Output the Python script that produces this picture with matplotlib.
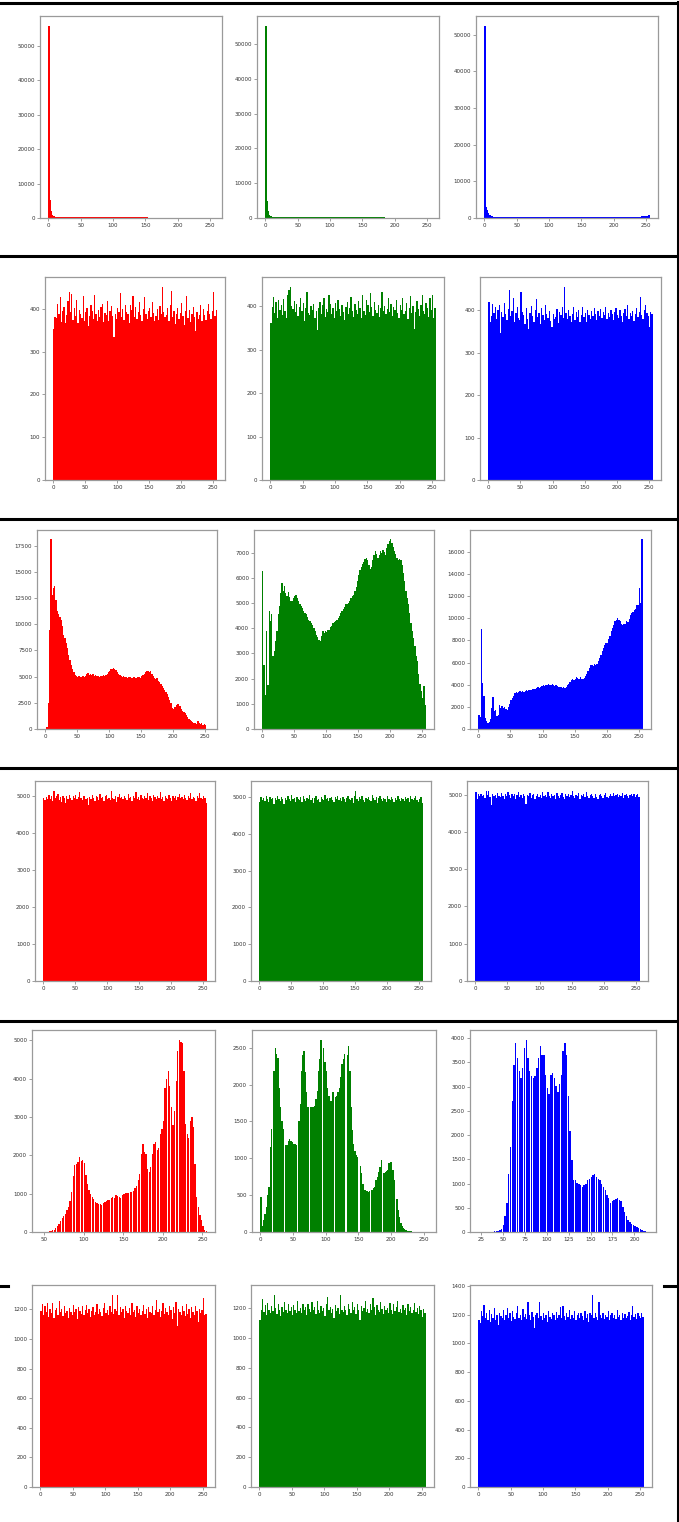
"""Grid of 18 per-channel colour histograms (six images x R/G/B), pasted as screenshots in a bordered table."""

import numpy as np
import matplotlib

matplotlib.use("Agg")
import matplotlib.pyplot as plt
from matplotlib.lines import Line2D
from matplotlib.ticker import MultipleLocator, FormatStrFormatter

W, H = 679, 1522
BIN = 2  # each value below covers two grey levels (0-1, 2-3, ...)

# ---- row 1: very dark image, almost everything at level 0 ----
R1_RED = [55800, 5300, 2100, 900, 560, 430, 380, 350, 330, 320, 310, 300, 305, 295, 290, 300,
          285, 290, 280, 285, 275, 280, 270, 275, 268, 272, 265, 260, 262, 258, 255, 260,
          250, 252, 248, 250, 245, 248, 240, 244, 238, 242, 236, 240, 232, 236, 230, 234,
          228, 230, 226, 228, 222, 225, 220, 222, 218, 220, 215, 218, 212, 215, 210, 212,
          208, 210, 205, 208, 202, 205, 200, 202, 198, 200, 195, 190, 150, 60]
R1_GREEN = [55300, 4900, 1900, 800, 450, 340, 290, 265, 250, 245, 240, 238, 235, 232, 230, 228,
            226, 224, 222, 220, 218, 221, 216, 219, 214, 217, 212, 215, 210, 213, 208, 211,
            206, 209, 204, 207, 202, 205, 200, 203, 198, 201, 196, 199, 194, 197, 192, 195,
            190, 193, 188, 191, 186, 189, 184, 187, 182, 185, 180, 183, 178, 181, 176, 179,
            174, 177, 172, 175, 170, 173, 168, 171, 166, 169, 164, 167, 162, 165, 160, 163,
            158, 161, 156, 159, 154, 157, 152, 155, 150, 153, 148, 151, 146, 120, 60, 20]
R1_BLUE = [52500, 3000, 2100, 1300, 800, 560, 450, 400, 380, 362, 350, 345, 340, 336, 332, 330,
           328, 325, 322, 320, 318, 320, 316, 318, 314, 317, 312, 315, 310, 313, 309, 312,
           308, 311, 307, 310, 306, 309, 305, 308, 304, 307, 303, 306, 302, 305, 301, 304,
           300, 303, 300, 302, 299, 301, 298, 300, 297, 300, 296, 299, 296, 298, 295, 298,
           295, 297, 294, 297, 294, 296, 294, 296, 295, 297, 296, 298, 297, 299, 298, 300,
           299, 301, 300, 303, 302, 305, 304, 307, 306, 309, 308, 311, 310, 313, 312, 316,
           315, 319, 318, 322, 321, 325, 324, 328, 327, 332, 331, 336, 335, 340, 340, 345,
           345, 350, 352, 358, 362, 370, 378, 390, 405, 420, 440, 470, 520, 590, 650, 720]

# ---- row 2: flat (encrypted) histograms ----
R2_RED = [352, 381, 378, 412, 389, 427, 370, 395, 404, 368, 386, 418, 440, 392, 436, 375,
          401, 384, 420, 366, 397, 388, 379, 430, 371, 393, 402, 360, 384, 410, 395, 377,
          433, 389, 371, 398, 380, 405, 412, 369, 391, 385, 418, 372, 395, 406, 383, 335,
          388, 376, 402, 392, 438, 381, 399, 374, 410, 393, 387, 366, 409, 397, 430, 381,
          404, 376, 392, 417, 385, 371, 400, 428, 389, 377, 395, 403, 382, 416, 391, 372,
          384, 399, 374, 407, 388, 452, 393, 380, 386, 401, 372, 410, 442, 381, 396, 365,
          387, 403, 377, 391, 413, 384, 362, 395, 430, 379, 398, 369, 388, 405, 382, 348,
          392, 377, 386, 408, 371, 399, 385, 374, 396, 412, 389, 376, 394, 440, 383, 398]
R2_GREEN = [362, 398, 421, 385, 409, 374, 414, 392, 403, 380, 417, 389, 372, 425, 438, 445,
            401, 393, 412, 386, 404, 377, 398, 420, 390, 407, 366, 395, 432, 384, 379, 401,
            391, 406, 373, 388, 345, 397, 410, 383, 402, 419, 376, 394, 387, 425, 405, 381,
            396, 372, 408, 389, 414, 393, 378, 402, 386, 368, 399, 409, 383, 395, 421, 388,
            376, 404, 392, 383, 411, 397, 372, 426, 390, 380, 415, 402, 386, 430, 398, 378,
            409, 391, 384, 403, 375, 397, 432, 388, 401, 381, 394, 420, 386, 405, 377, 398,
            391, 414, 384, 372, 403, 392, 419, 381, 389, 408, 370, 396, 423, 385, 400, 348,
            387, 412, 394, 378, 402, 425, 389, 381, 407, 395, 376, 420, 392, 426, 372, 396]
R2_BLUE = [418, 372, 387, 415, 392, 408, 378, 399, 411, 345, 396, 384, 417, 390, 376, 402,
           448, 385, 398, 428, 371, 393, 406, 382, 377, 442, 395, 388, 367, 404, 379, 356,
           392, 410, 385, 372, 399, 427, 383, 394, 366, 405, 388, 377, 412, 390, 381, 398,
           374, 359, 391, 379, 384, 402, 370, 396, 388, 406, 381, 455, 394, 378, 400, 386,
           372, 390, 408, 376, 395, 384, 399, 372, 388, 406, 383, 394, 371, 401, 389, 378,
           397, 385, 405, 391, 376, 398, 386, 402, 381, 395, 389, 407, 378, 393, 384, 400,
           390, 377, 396, 404, 388, 381, 399, 385, 372, 394, 402, 387, 411, 379, 393, 386,
           398, 375, 390, 405, 383, 396, 430, 388, 378, 401, 412, 392, 385, 360, 396, 390]

# ---- row 3: natural image ----
R3_RED = [0, 150, 2500, 9500, 18100, 12800, 13500, 13700, 12300, 11300, 11000, 10700, 10400, 9800, 9000, 8700,
          8200, 7700, 7100, 6600, 6100, 5700, 5400, 5200, 5100, 5000, 5050, 4950, 5000, 5050, 5000, 5100,
          5250, 5350, 5200, 5300, 5150, 5250, 5100, 5200, 5050, 5100, 5000, 5100, 5050, 5150, 5100, 5200,
          5250, 5400, 5550, 5700, 5750, 5800, 5700, 5600, 5450, 5300, 5150, 5050, 5000, 5100, 4950, 5000,
          4900, 4950, 5000, 4850, 4900, 4950, 4850, 4900, 5000, 4950, 4900, 5050, 5150, 5300, 5400, 5500,
          5550, 5450, 5500, 5300, 5100, 4900, 4800, 4850, 4600, 4450, 4300, 4100, 3900, 3750, 3500, 3300,
          3100, 2800, 2450, 2050, 1950, 2100, 2300, 2400, 2350, 2200, 1900, 1700, 1600, 1500, 1300, 1100,
          950, 850, 800, 700, 600, 550, 500, 800, 600, 450, 550, 400, 500, 350, 0, 0]
R3_GREEN = [6270, 2560, 1370, 3880, 1760, 4680, 4300, 4550, 2890, 3100, 3490, 3900, 4550, 4900, 5400, 5800,
            5500, 5700, 5400, 5300, 5450, 5250, 5100, 5080, 5200, 5300, 5340, 5200, 5100, 4950, 4900, 4800,
            4700, 4600, 4550, 4450, 4350, 4300, 4200, 4150, 4000, 3900, 3750, 3650, 3550, 3500, 3700, 3880,
            3800, 3900, 3850, 3950, 3950, 4050, 4100, 4200, 4250, 4300, 4350, 4410, 4500, 4600, 4700, 4750,
            4850, 4950, 4950, 5000, 5100, 5200, 5300, 5340, 5500, 5650, 5870, 6100, 6300, 6450, 6540, 6650,
            6750, 6800, 6700, 6500, 6340, 6450, 6700, 6900, 7070, 6950, 6800, 6900, 7070, 7000, 7100, 7050,
            6930, 7200, 7350, 7450, 7530, 7400, 7250, 7070, 6950, 6800, 6700, 6750, 6730, 6500, 6200, 5870,
            5500, 5200, 4950, 4600, 4200, 3900, 3620, 3300, 2900, 2690, 2200, 1800, 1500, 1230, 1700, 970]
R3_BLUE = [1290, 1100, 9040, 4140, 2940, 990, 700, 540, 600, 900, 1890, 2850, 1600, 1740, 1200, 1290,
           2130, 1900, 2050, 1850, 1950, 1800, 1740, 2000, 2300, 2640, 2800, 3000, 3240, 3300, 3250, 3350,
           3390, 3300, 3420, 3380, 3450, 3480, 3400, 3500, 3550, 3500, 3600, 3650, 3600, 3690, 3750, 3700,
           3800, 3850, 3930, 3900, 3980, 4000, 4050, 3950, 4000, 4080, 3950, 3900, 3930, 3850, 3800, 3750,
           3800, 3700, 3750, 3690, 3800, 3950, 4100, 4250, 4440, 4500, 4400, 4550, 4650, 4600, 4500, 4650,
           4550, 4500, 4590, 4800, 5000, 5200, 5500, 5790, 5800, 5700, 5850, 5800, 5850, 6100, 6400, 6700,
           7000, 7300, 7550, 7750, 7800, 8100, 8400, 8800, 9100, 9400, 9700, 9850, 10000, 9800, 9700, 9500,
           9400, 9450, 9500, 9700, 9650, 9900, 10300, 10500, 10600, 10750, 10800, 11200, 11200, 12700, 11350, 17100]

# ---- row 4: flat (encrypted) histograms ----
R4_RED = [4960, 4890, 4985, 4930, 5020, 4910, 5000, 4870, 5150, 4940, 4990, 5050, 4905, 4970, 4850, 5010,
          4955, 4820, 4990, 4930, 5040, 4960, 4885, 5000, 4945, 5025, 4915, 4980, 5110, 4950, 4895, 4990,
          5005, 4930, 4960, 4760, 4985, 4920, 5030, 4950, 4880, 5000, 4965, 4905, 5045, 4940, 4975, 4860,
          4990, 5020, 4930, 4955, 4890, 5130, 4960, 4915, 4995, 4850, 4970, 5050, 4940, 4985, 4910, 5015,
          4955, 4900, 5060, 4935, 4980, 4870, 5000, 4950, 5100, 4920, 4975, 4890, 5035, 4960, 4925, 5010,
          4945, 5080, 4900, 4990, 4955, 4870, 5020, 4965, 4915, 5000, 4940, 5110, 4930, 4985, 4880, 5005,
          4960, 4920, 5040, 4950, 4870, 4990, 4935, 5015, 4900, 4970, 5060, 4945, 4985, 4910, 5020, 4950,
          4890, 4995, 4940, 5070, 4925, 4980, 4955, 4880, 5010, 4940, 5090, 4960, 4930, 5000, 4950, 4820]
R4_GREEN = [4860, 5010, 4930, 4985, 4900, 5030, 4950, 4880, 5005, 4940, 4975, 4820, 4990, 4925, 5040, 4960,
            4890, 5000, 4945, 4810, 4985, 4930, 5020, 4955, 4900, 5050, 4940, 4975, 4870, 5010, 4950, 4920,
            4995, 4860, 5030, 4945, 4905, 4980, 4960, 5045, 4915, 4990, 4840, 4970, 5025, 4935, 4960, 4880,
            5000, 4950, 4915, 5060, 4940, 4985, 4895, 4970, 5010, 4930, 4875, 4995, 4950, 5035, 4920, 4965,
            4905, 5000, 4940, 4860, 4990, 5040, 4955, 4915, 4980, 4830, 5020, 5180, 4945, 4900, 4995, 4960,
            5030, 4925, 4870, 4985, 4950, 5015, 4935, 4890, 5050, 4965, 4920, 4995, 4850, 4975, 5020, 4940,
            4905, 4990, 4960, 4880, 5035, 4945, 4915, 5000, 4960, 4870, 4985, 4930, 5040, 4950, 4905, 4990,
            4955, 4895, 5010, 4940, 4970, 4860, 5025, 4950, 4910, 4985, 5020, 4935, 4880, 4960, 5010, 4850]
R4_BLUE = [5060, 4880, 5010, 4970, 5030, 4950, 5000, 4920, 5110, 4985, 5090, 4940, 4730, 5020, 4960, 4995,
           4900, 5040, 4975, 4930, 5050, 4965, 4890, 5010, 4950, 5070, 4985, 4915, 5030, 4960, 5005, 4875,
           4990, 5060, 4940, 4990, 4900, 5020, 4965, 4760, 5000, 4950, 5045, 4920, 4980, 5010, 4890, 4975,
           5030, 4945, 4990, 4915, 5065, 4960, 5000, 4930, 5080, 4975, 4910, 5020, 4955, 4995, 4880, 5040,
           4965, 4920, 4990, 5050, 4945, 4890, 5005, 4970, 5025, 4935, 4985, 5110, 4960, 4915, 5000, 4950,
           5040, 4875, 4990, 4965, 5015, 4930, 5060, 4950, 4905, 4995, 5030, 4960, 4920, 5005, 4945, 4880,
           4990, 5020, 4955, 4910, 4985, 5035, 4940, 4900, 4975, 5010, 4950, 5040, 4965, 4990, 5025, 4930,
           5000, 4960, 5045, 4920, 4985, 5010, 4950, 4905, 4995, 5020, 4960, 5030, 4935, 4990, 5015, 4945]

# ---- row 5: stretched image (empty levels show as white gaps) ----
R5_RED = [0, 0, 0, 0, 0, 0, 0, 0, 0, 0, 0, 0, 0, 0, 0, 0,
          0, 0, 0, 0, 0, 0, 0, 0, 0, 0, 0, 10, 15, 25, 40, 60,
          100, 150, 220, 300, 360, 420, 480, 580, 650, 800, 1050, 1450, 1750, 1780, 1830, 1960,
          1850, 1880, 1800, 1500, 1250, 1100, 1000, 920, 850, 790, 760, 740, 730, 710, 760, 790,
          810, 840, 830, 880, 920, 900, 965, 940, 920, 880, 960, 1000, 1020, 1030, 1010, 1050,
          1050, 1080, 1140, 1200, 1350, 1525, 2040, 2300, 2100, 2040, 1650, 1570, 1700, 2040, 2300, 2340,
          2130, 2200, 2560, 2700, 2900, 3770, 4000, 4200, 3810, 3250, 2780, 3160, 3940, 4720, 5020, 4950,
          4930, 4200, 2820, 2560, 2450, 2900, 2990, 2730, 1780, 920, 660, 450, 320, 150, 60, 20]
R5_GREEN = [480, 76, 166, 250, 345, 500, 615, 1150, 1400, 0, 2190, 2500, 2420, 2365, 1960, 1700,
            1510, 1400, 0, 1175, 1175, 1230, 1265, 1240, 1220, 1200, 1200, 1175, 0, 1500, 1740, 2190,
            2400, 2450, 2170, 1900, 1690, 0, 1690, 1690, 1700, 1715, 1800, 1915, 2190, 2350, 2610, 0,
            2500, 2300, 2190, 1960, 1850, 1780, 1780, 1900, 0, 1830, 1850, 1900, 1960, 2100, 2280, 2350,
            2410, 0, 2400, 2520, 2190, 1700, 1380, 1200, 1100, 1040, 1020, 0, 900, 795, 650, 570,
            570, 560, 548, 555, 0, 570, 600, 615, 700, 750, 820, 885, 975, 0, 795, 815,
            830, 840, 930, 950, 950, 840, 700, 0, 450, 300, 200, 120, 80, 55, 40, 25,
            20, 15, 10, 8, 5]
R5_BLUE = [0, 0, 0, 0, 0, 0, 0, 0, 0, 0, 0, 0, 0, 0, 0, 0,
           0, 0, 0, 0, 14, 18, 25, 35, 70, 150, 320, 590, 1200, 1750, 2700, 3450,
           3900, 3590, 3320, 3180, 3390, 3800, 3970, 3590, 3320, 3220, 3180, 3220, 3390, 3590, 3830, 3660,
           3660, 3250, 2980, 2840, 3250, 3290, 3180, 3010, 2880, 3050, 3250, 3730, 3900, 3660, 2810, 2090,
           1480, 1070, 1070, 1020, 1000, 970, 935, 980, 1000, 1070, 1100, 1140, 1180, 1200, 1140, 1100,
           1070, 1000, 935, 865, 765, 700, 590, 630, 660, 680, 695, 660, 630, 525, 420, 320,
           250, 200, 170, 140, 115, 95, 80, 60, 48, 30, 14]

# ---- row 6: flat (encrypted) histograms ----
R6_RED = [1190, 1235, 1160, 1225, 1180, 1245, 1150, 1200, 1175, 1240, 1145, 1195, 1210, 1165, 1255, 1180,
          1200, 1155, 1220, 1175, 1190, 1140, 1210, 1185, 1165, 1230, 1180, 1200, 1135, 1215, 1190, 1170,
          1225, 1160, 1195, 1230, 1175, 1205, 1150, 1190, 1215, 1165, 1185, 1235, 1170, 1200, 1180, 1155,
          1210, 1245, 1175, 1195, 1160, 1225, 1185, 1300, 1170, 1205, 1190, 1295, 1165, 1215, 1180, 1200,
          1145, 1225, 1190, 1175, 1210, 1160, 1240, 1185, 1195, 1150, 1220, 1175, 1205, 1165, 1190, 1230,
          1170, 1200, 1145, 1215, 1185, 1175, 1225, 1160, 1195, 1265, 1180, 1205, 1150, 1190, 1240, 1170,
          1210, 1185, 1165, 1225, 1195, 1135, 1215, 1175, 1250, 1090, 1200, 1180, 1165, 1220, 1190, 1155,
          1235, 1170, 1200, 1140, 1215, 1185, 1160, 1225, 1190, 1115, 1205, 1175, 1195, 1280, 1160, 1170]
R6_GREEN = [1120, 1190, 1260, 1175, 1220, 1150, 1235, 1190, 1165, 1215, 1180, 1290, 1200, 1160, 1225, 1185,
            1145, 1210, 1175, 1240, 1190, 1165, 1230, 1180, 1205, 1155, 1220, 1190, 1170, 1245, 1180, 1200,
            1165, 1230, 1185, 1210, 1150, 1225, 1195, 1175, 1240, 1185, 1205, 1160, 1250, 1190, 1170, 1215,
            1180, 1200, 1145, 1225, 1275, 1185, 1210, 1165, 1195, 1135, 1220, 1180, 1200, 1160, 1285, 1190,
            1175, 1215, 1185, 1155, 1230, 1195, 1170, 1240, 1185, 1205, 1160, 1225, 1190, 1120, 1215, 1180,
            1200, 1250, 1175, 1195, 1165, 1230, 1185, 1270, 1205, 1150, 1220, 1190, 1175, 1240, 1195, 1160,
            1215, 1185, 1200, 1170, 1235, 1190, 1160, 1225, 1180, 1205, 1245, 1175, 1195, 1165, 1220, 1185,
            1200, 1150, 1230, 1180, 1210, 1165, 1190, 1235, 1175, 1200, 1160, 1215, 1185, 1140, 1195, 1170]
R6_BLUE = [1160, 1145, 1225, 1190, 1270, 1175, 1210, 1160, 1235, 1150, 1205, 1180, 1245, 1165, 1200, 1125,
           1215, 1190, 1175, 1230, 1160, 1195, 1250, 1180, 1210, 1155, 1225, 1185, 1170, 1215, 1260, 1175,
           1195, 1160, 1240, 1185, 1205, 1170, 1290, 1200, 1165, 1220, 1185, 1105, 1195, 1215, 1175, 1290,
           1190, 1160, 1210, 1180, 1200, 1150, 1225, 1185, 1170, 1210, 1195, 1160, 1220, 1180, 1200, 1255,
           1175, 1260, 1190, 1165, 1215, 1185, 1235, 1170, 1200, 1180, 1225, 1160, 1195, 1210, 1175, 1215,
           1190, 1165, 1225, 1180, 1205, 1150, 1215, 1195, 1340, 1175, 1210, 1185, 1165, 1290, 1195, 1180,
           1215, 1170, 1200, 1185, 1225, 1160, 1195, 1210, 1180, 1200, 1170, 1230, 1185, 1195, 1160, 1215,
           1180, 1205, 1175, 1190, 1220, 1165, 1200, 1260, 1185, 1205, 1170, 1215, 1190, 1180, 1210, 1185]

CHANNEL_COLORS = ["#ff0000", "#008000", "#0000ff"]
ROW_DATA = [
    [R1_RED, R1_GREEN, R1_BLUE],
    [R2_RED, R2_GREEN, R2_BLUE],
    [R3_RED, R3_GREEN, R3_BLUE],
    [R4_RED, R4_GREEN, R4_BLUE],
    [R5_RED, R5_GREEN, R5_BLUE],
    [R6_RED, R6_GREEN, R6_BLUE],
]
# y tick step per panel
Y_STEPS = [
    [10000, 10000, 10000],
    [100, 100, 100],
    [2500, 1000, 2000],
    [1000, 1000, 1000],
    [1000, 500, 500],
    [200, 200, 200],
]
FULL = (-12.8, 268.8)
X_LIMS = {(4, 0): (34.7, 265.9), (4, 2): (12.7, 224.6)}
X_STEPS = {(4, 2): 25}
COMB = {(4, 0), (4, 2)}  # histograms with many empty levels

# axes boxes in pixels: (left, top, right, bottom) per row / column
ROW_Y = [(16, 218), (277, 480), (530, 729), (781, 981), (1030, 1232), (1285, 1487)]
COL_X = [
    [(40, 222), (257, 439), (476, 658)],
    [(45, 225), (262, 444), (480, 661)],
    [(37, 217), (254, 434), (470, 651)],
    [(35, 215), (251, 431), (467, 648)],
    [(32, 215), (252, 436), (470, 656)],
    [(32, 215), (251, 434), (470, 652)],
]
SEPARATORS_Y = [3, 256, 519, 768, 1021]
STUB_Y = 1286


def box(left, top, right, bottom):
    return [left / W, 1 - bottom / H, (right - left) / W, (bottom - top) / H]


def draw_hist(ax, values, color, xlim, xstep, ystep, comb):
    values = np.asarray(values, dtype=float)
    edges = np.arange(len(values) + 1) * BIN
    if comb:
        ax.bar(edges[:-1], values, width=BIN * 0.8, align="edge", color=color, linewidth=0)
    else:
        ax.stairs(values, edges, fill=True, color=color, linewidth=0)
    ax.set_xlim(*xlim)
    ax.set_ylim(0, values.max() * 1.05)
    ax.xaxis.set_major_locator(MultipleLocator(xstep))
    ax.yaxis.set_major_locator(MultipleLocator(ystep))
    ax.xaxis.set_major_formatter(FormatStrFormatter("%d"))
    ax.yaxis.set_major_formatter(FormatStrFormatter("%d"))
    ax.tick_params(labelsize=4, length=2, width=0.5, pad=1.5, colors="#777777", labelcolor="#333333")
    for sp in ax.spines.values():
        sp.set_color("#9a9a9a")
        sp.set_linewidth(0.9)


def main():
    fig = plt.figure(figsize=(W / 100, H / 100), dpi=100)
    for r, row in enumerate(ROW_DATA):
        top, bottom = ROW_Y[r]
        for c, values in enumerate(row):
            left, right = COL_X[r][c]
            ax = fig.add_axes(box(left, top, right, bottom))
            draw_hist(ax, values, CHANNEL_COLORS[c], X_LIMS.get((r, c), FULL),
                      X_STEPS.get((r, c), 50), Y_STEPS[r][c], (r, c) in COMB)

    # table borders around the pasted screenshots
    lw = 2.2
    for y in SEPARATORS_Y:
        fig.add_artist(Line2D([0, 677.5 / W], [1 - y / H] * 2, color="black", lw=lw))
    fig.add_artist(Line2D([677.5 / W] * 2, [0, 1 - 2 / H], color="black", lw=lw))
    fig.add_artist(Line2D([0, 8 / W], [1 - STUB_Y / H] * 2, color="black", lw=lw))
    fig.add_artist(Line2D([664 / W, 677.5 / W], [1 - STUB_Y / H] * 2, color="black", lw=lw))

    fig.savefig("out.png", dpi=100)


if __name__ == "__main__":
    main()
